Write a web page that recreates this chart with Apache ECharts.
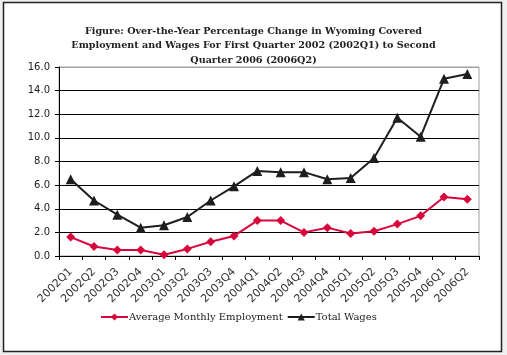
<!DOCTYPE html>
<html>
<head>
<meta charset="utf-8">
<script src="https://cdn.jsdelivr.net/npm/echarts@6/dist/echarts.min.js"></script>
<style>
html,body{margin:0;padding:0;background:#efefef;}
#c{width:507px;height:355px;}
</style>
</head>
<body>
<div id="c"></div>
<script>
const categories = ['2002Q1','2002Q2','2002Q3','2002Q4','2003Q1','2003Q2','2003Q3','2003Q4','2004Q1','2004Q2','2004Q3','2004Q4','2005Q1','2005Q2','2005Q3','2005Q4','2006Q1','2006Q2'];
const employment = [1.6,0.8,0.5,0.5,0.1,0.6,1.2,1.7,3.0,3.0,2.0,2.4,1.9,2.1,2.7,3.4,5.0,4.8];
const wages = [6.5,4.7,3.5,2.4,2.6,3.3,4.7,5.9,7.2,7.1,7.1,6.5,6.6,8.3,11.7,10.1,15.0,15.4];
const titleText = 'Figure: Over-the-Year Percentage Change in Wyoming Covered\nEmployment and Wages For First Quarter 2002 (2002Q1) to Second\nQuarter 2006 (2006Q2)';

const chart = echarts.init(document.getElementById('c'), null, {renderer:'canvas'});
const gridColors = ['#000','#000','#000','#000','#000','#000','#000','#000','#a0a0a0'];
chart.setOption({
  backgroundColor: '#efefef',
  animation: false,
  graphic: [{
    type: 'rect', z: -10, silent: true,
    shape: {x: 3.5, y: 2.5, width: 498, height: 349},
    style: {fill: '#fff', stroke: '#222', lineWidth: 1.5}
  }],
  title: {
    text: titleText,
    left: 'center', top: 19,
    textStyle: {fontFamily: 'DejaVu Serif', fontWeight: 'bold', fontSize: 9.6, lineHeight: 14.5, color: '#222', align: 'center'}
  },
  grid: {left: 59, right: 28, top: 67, bottom: 99, show: true, borderColor: '#a0a0a0', borderWidth: 1, backgroundColor: 'transparent'},
  legend: {
    bottom: 28, left: 95,
    itemWidth: 27, itemHeight: 9, itemGap: 4,
    textStyle: {fontFamily: 'DejaVu Serif', fontSize: 10, color: '#222', padding: [0,0,0,-4]},
    data: ['Average Monthly Employment','Total Wages']
  },
  xAxis: {
    type: 'category', data: categories, boundaryGap: true,
    axisLine: {lineStyle: {color: '#000', width: 1}},
    axisTick: {show: true, length: 4, lineStyle: {color: '#000'}},
    axisLabel: {interval: 0, rotate: 45, fontFamily: 'DejaVu Sans', fontSize: 11, color: '#333', margin: 14}
  },
  yAxis: {
    type: 'value', min: 0, max: 16, interval: 2,
    axisLine: {show: true, lineStyle: {color: '#000', width: 1}},
    axisTick: {show: true, length: 4, lineStyle: {color: '#000'}},
    axisLabel: {formatter: v => v.toFixed(1), fontFamily: 'DejaVu Sans', fontSize: 10, color: '#222', margin: 9},
    splitLine: {show: true, lineStyle: {color: gridColors, width: 1}}
  },
  series: [
    {name: 'Average Monthly Employment', type: 'line', data: employment,
     symbol: 'diamond', symbolSize: 9,
     lineStyle: {color: '#d7063b', width: 2}, itemStyle: {color: '#d7063b'}},
    {name: 'Total Wages', type: 'line', data: wages,
     symbol: 'triangle', symbolSize: 10,
     lineStyle: {color: '#1e1e1e', width: 2}, itemStyle: {color: '#1e1e1e'}}
  ]
});
</script>
</body>
</html>
